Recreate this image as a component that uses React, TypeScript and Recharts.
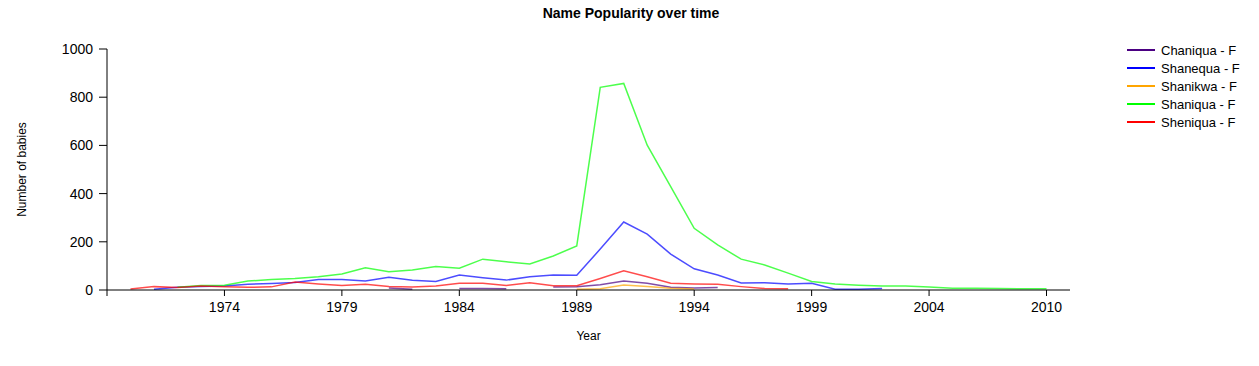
import { LineChart, Line, XAxis, YAxis, Label } from 'recharts';

// Years on the x axis (2009 is absent from the source data)
const years = [
  1970, 1971, 1972, 1973, 1974, 1975, 1976, 1977, 1978, 1979,
  1980, 1981, 1982, 1983, 1984, 1985, 1986, 1987, 1988, 1989,
  1990, 1991, 1992, 1993, 1994, 1995, 1996, 1997, 1998, 1999,
  2000, 2001, 2002, 2003, 2004, 2005, 2006, 2007, 2008, 2010,
];

const _ = null;

const chaniqua = [
  _, _, _, _, _, _, _, _, _, _,
  _, 8, 3, _, 6, 6, 5, _, 12, 14,
  22, 37, 28, 11, 8, 10, _, _, _, _,
  _, _, _, _, _, _, _, _, _, _,
];

const shanequa = [
  _, 3, 11, 15, 17, 24, 27, 31, 44, 44,
  37, 53, 40, 35, 62, 51, 41, 55, 62, 61,
  170, 282, 232, 149, 88, 62, 29, 30, 25, 28,
  3, 3, 6, _, _, _, _, _, _, _,
];

const shanikwa = [
  _, _, _, _, _, _, _, _, _, _,
  _, _, _, _, _, _, _, _, _, 3,
  5, 21, 15, 7, 4, _, _, _, _, _,
  _, _, _, _, _, _, _, _, _, _,
];

const shaniqua = [
  _, _, 11, 19, 20, 37, 44, 48, 55, 66,
  92, 76, 83, 97, 90, 128, 117, 108, 141, 183,
  841, 857, 601, 429, 256, 187, 128, 104, 70, 35,
  25, 20, 17, 17, 12, 7, 7, 6, 5, 5,
];

const sheniqua = [
  4, 14, 10, 17, 14, 11, 13, 33, 25, 19,
  24, 15, 12, 17, 28, 28, 19, 30, 18, 18,
  48, 80, 55, 28, 25, 24, 14, 6, 5, _,
  _, _, _, _, _, _, _, _, _, _,
];

const tickYears = [1974, 1979, 1984, 1989, 1994, 1999, 2004, 2010];
const yTicks = [0, 200, 400, 600, 800, 1000];

const series = [
  { key: 'chaniqua', name: 'Chaniqua - F', color: '#4B0082' },
  { key: 'shanequa', name: 'Shanequa - F', color: '#0000FF' },
  { key: 'shanikwa', name: 'Shanikwa - F', color: '#FFA500' },
  { key: 'shaniqua', name: 'Shaniqua - F', color: '#00FF00' },
  { key: 'sheniqua', name: 'Sheniqua - F', color: '#FF0000' },
];

const chartData = years.map((year, i) => ({
  idx: i,
  year,
  chaniqua: chaniqua[i],
  shanequa: shanequa[i],
  shanikwa: shanikwa[i],
  shaniqua: shaniqua[i],
  sheniqua: sheniqua[i],
}));

// x axis works on the index, labels come from the years list
const xTicks = [-1, ...tickYears.map((y) => years.indexOf(y))];

const font = '"Liberation Sans", Arial, sans-serif';

const App = () => {
  return (
    <div style={{ position: 'relative', width: 1259, height: 366, margin: -8, fontFamily: font }}>
      <div
        style={{
          position: 'absolute',
          top: 5,
          left: 0,
          width: 1262,
          textAlign: 'center',
          fontSize: 14,
          fontWeight: 'bold',
          color: '#000',
        }}
      >
        Name Popularity over time
      </div>

      <LineChart
        width={1259}
        height={366}
        data={chartData}
        margin={{ top: 49, right: 189, bottom: 0, left: 0 }}
        style={{ fontFamily: font }}
      >
        <XAxis
          type="number"
          dataKey="idx"
          domain={[-1, 40]}
          ticks={xTicks}
          allowDataOverflow
          tickFormatter={(v: number) => (v < 0 ? '' : String(years[v]))}
          height={76}
          tickSize={6}
          tickMargin={6}
          stroke="#000"
          tick={{ fill: '#000', fontSize: 14 }}
        >
          <Label value="Year" position="insideBottom" offset={26} fill="#000" fontSize={12} />
        </XAxis>
        <YAxis
          type="number"
          domain={[0, 1000]}
          ticks={yTicks}
          width={107}
          tickSize={8}
          tickMargin={6}
          stroke="#000"
          tick={{ fill: '#000', fontSize: 14 }}
        >
          <Label
            value="Number of babies"
            angle={-90}
            position="insideLeft"
            offset={22}
            fill="#000"
            fontSize={12}
            style={{ textAnchor: 'middle' }}
          />
        </YAxis>
        {series.map((s) => (
          <Line
            key={s.key}
            type="linear"
            dataKey={s.key}
            name={s.name}
            stroke={s.color}
            strokeOpacity={0.7}
            strokeWidth={1.5}
            dot={false}
            activeDot={false}
            connectNulls={false}
            isAnimationActive={false}
          />
        ))}
      </LineChart>

      <div style={{ position: 'absolute', left: 1127, top: 41 }}>
        {series.map((s) => (
          <div key={s.key} style={{ display: 'flex', alignItems: 'center', height: 18 }}>
            <div style={{ width: 28, height: 2, background: s.color, marginRight: 6 }} />
            <span style={{ fontSize: 13, color: '#000' }}>{s.name}</span>
          </div>
        ))}
      </div>
    </div>
  );
};

export default App;
